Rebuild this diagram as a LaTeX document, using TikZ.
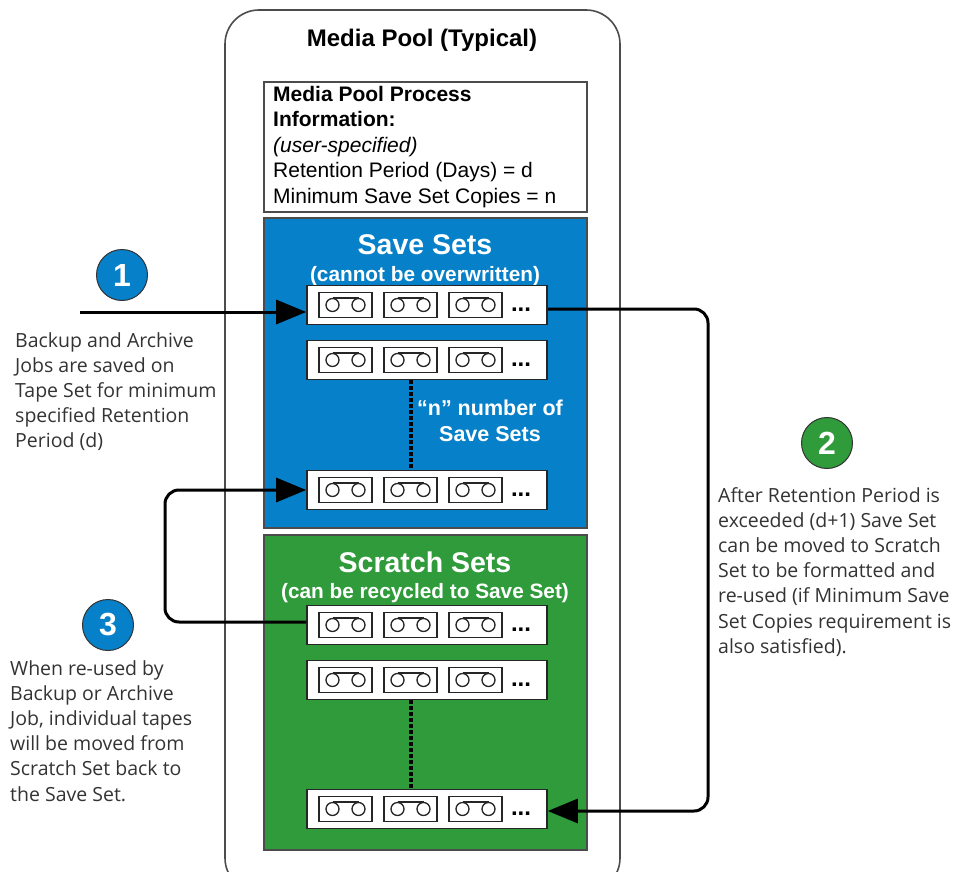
\documentclass[tikz,border=0pt]{standalone}
\usepackage{fontspec}
\setmainfont{Liberation Sans}
\newfontfamily\notefont{Open Sans}
\usetikzlibrary{arrows.meta}
\definecolor{saveblue}{HTML}{0680C8}
\definecolor{scratchgreen}{HTML}{2F9B3A}
\tikzset{
    x=1pt, y=-1pt,
    setbox/.style={rectangle, draw=black!70, line width=1.2pt, minimum width=323pt, inner sep=0pt},
    rowbox/.style={rectangle, draw=black!85, fill=white, line width=1.6pt, minimum width=240pt, minimum height=39pt, inner sep=0pt},
    tapebox/.style={rectangle, draw=black!85, line width=1.8pt, minimum width=53pt, minimum height=25pt, inner sep=0pt},
    reel/.style={circle, draw=black!85, line width=1.3pt, minimum size=13pt, inner sep=0pt},
    badge/.style={circle, draw=black!80, line width=1pt, minimum size=51pt, inner sep=0pt, text=white, font=\fontsize{32}{34}\selectfont\bfseries},
    note/.style={align=left, anchor=north west, inner sep=0pt, text=black!80, font=\notefont\fontsize{19.5}{25.2}\selectfont},
    flow/.style={line width=3pt, rounded corners=14pt},
    tip/.style={-{Triangle[length=30pt, width=24pt]}},
    dots/.style={line width=3.5pt, dash pattern=on 4pt off 2pt},
    settitle/.style={text=white, inner sep=0pt, font=\fontsize{28.5}{30}\selectfont\bfseries},
    setsub/.style={text=white, inner sep=0pt, font=\fontsize{20.8}{22}\selectfont\bfseries}
}
\begin{document}
\begin{tikzpicture}
    \useasboundingbox (0,0) rectangle (966,872);
    % Pool and sets
    \draw[black!70, line width=1.6pt, rounded corners=34pt] (225,892) rectangle (620,10);
    \node (pooltitle) [inner sep=0pt, font=\fontsize{24}{26}\selectfont\bfseries] at (422,40) {Media Pool (Typical)};
    \node (info) [setbox, minimum height=130pt] at (425.5,147) {};
    \node (infotext) [align=left, anchor=north west, inner sep=0pt, font=\fontsize{21}{25.5}\selectfont] at (273,86) {\textbf{Media Pool Process}\\\textbf{Information:}\\\textit{(user-specified)}\\Retention Period (Days) = d\\Minimum Save Set Copies = n};
    \node (saveset) [setbox, fill=saveblue, minimum height=310pt] at (425.5,373) {};
    \node (scratchset) [setbox, fill=scratchgreen, minimum height=315pt] at (425.5,692.5) {};
    \node (savetitle) [settitle] at (425,245) {Save Sets};
    \node (savesub) [setsub] at (425,276) {(cannot be overwritten)};
    \node (scratchtitle) [settitle] at (425,562) {Scratch Sets};
    \node (scratchsub) [setsub] at (425,593) {(can be recycled to Save Set)};
    \node (nsets) [setsub, align=center, font=\fontsize{21.5}{26}\selectfont\bfseries] at (490,421) {“n” number of\\Save Sets};

    % Rows of tapes
    \foreach \rowname/\rowy in {r1/305, r2/360, r3/490, r4/625, r5/680, r6/809} {
        \node (\rowname) [rowbox] at (427,\rowy) {};
        \foreach \tapex/\tapeid in {345.5/p, 410.5/q, 475.5/s} {
            \node (\rowname\tapeid) [tapebox] at (\tapex,\rowy) {};
            \node (\rowname\tapeid a) [reel] at (\tapex-13,\rowy) {};
            \node (\rowname\tapeid b) [reel] at (\tapex+13,\rowy) {};
            \draw[black!85, line width=1.3pt] (\rowname\tapeid a.north) -- (\rowname\tapeid b.north);
        }
        \node (\rowname dots) [inner sep=0pt, font=\fontsize{24}{26}\selectfont\bfseries] at (521,\rowy+5) {...};
    }

    % Badges and notes
    \node (b1) [badge, fill=saveblue] at (122,275) {1};
    \node (b2) [badge, fill=scratchgreen] at (827,443) {2};
    \node (b3) [badge, fill=saveblue] at (108,625) {3};
    \node (n1) [note] at (15,332) {Backup and Archive\\Jobs are saved on\\Tape Set for minimum\\specified Retention\\Period (d)};
    \node (n2) [note] at (718,487) {After Retention Period is\\exceeded (d+1) Save Set\\can be moved to Scratch\\Set to be formatted and\\re-used (if Minimum Save\\Set Copies requirement is\\also satisfied).};
    \node (n3) [note] at (10,660) {When re-used by\\Backup or Archive\\Job, individual tapes\\will be moved from\\Scratch Set back to\\the Save Set.};

    % Edges
    \coordinate (start) at (80,312);
    \coordinate (c2a) at (708,309);
    \coordinate (c2b) at (708,811);
    \coordinate (c3a) at (165,622);
    \coordinate (c3b) at (165,490);
    \draw[flow, tip] (start) -- (r1.west |- start);
    \draw[flow, tip] (r1.east |- c2a) -- (c2a) -- (c2b) -- (r6.east |- c2b);
    \draw[flow, tip] (r4.west |- c3a) -- (c3a) -- (c3b) -- (r3.west);
    \draw[dots] ([xshift=-16pt]r2.south) -- ([xshift=-16pt]r3.north);
    \draw[dots] ([xshift=-16pt]r5.south) -- ([xshift=-16pt]r6.north);
\end{tikzpicture}
\end{document}
